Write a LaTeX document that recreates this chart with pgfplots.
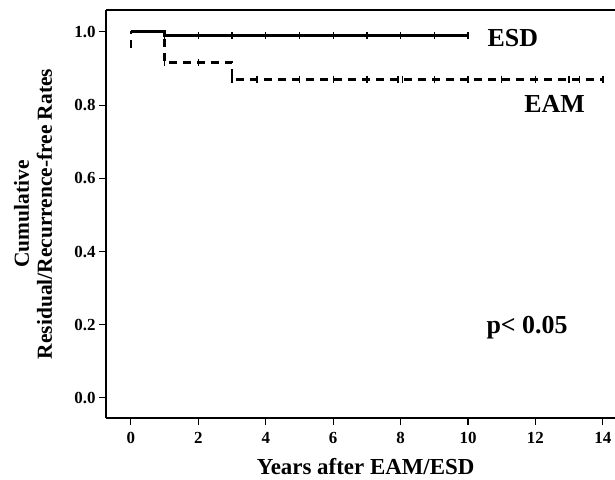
\documentclass[border=0pt]{standalone}
\usepackage{pgfplots}
\pgfplotsset{compat=1.18}
\usepackage{fontspec}
\setmainfont{Liberation Serif}
\begin{document}
\begin{tikzpicture}
\begin{axis}[
  at={(0,0)}, anchor=south west,
  scale only axis, width=509bp, height=408bp,
  xmin=-0.74, xmax=14.36, ymin=-0.055, ymax=1.06,
  axis lines*=left,
  axis line style={-, line width=1.1pt},
  tick align=outside,
  major tick length=7bp,
  tick style={line width=1.1pt, black},
  xtick={0,2,...,14},
  ytick={0,0.2,...,1.0},
  yticklabel style={/pgf/number format/fixed, /pgf/number format/fixed zerofill, /pgf/number format/precision=1},
  /pgf/number format/assume math mode=true,
  ticklabel style={font=\fontsize{17}{19}\selectfont\bfseries},
  xticklabel style={yshift=-4bp},
  xlabel={Years after EAM/ESD},
  xlabel style={font=\fontsize{23}{26}\selectfont\bfseries, at={(rel axis cs:0.51,0)}, anchor=center, yshift=-49bp},
  ylabel={Cumulative\\Residual/Recurrence-free Rates},
  ylabel style={font=\fontsize{21.5}{23}\selectfont\bfseries, align=center, at={(rel axis cs:-0.1434,0.5)}, anchor=center},
  clip=false,
]
% ESD
\addplot[black, line width=3pt, const plot] coordinates {(0,1.0) (1,1.0) (1,0.989) (10,0.989)};
\addplot[black, only marks, mark=|, mark size=3.5bp, mark options={line width=1.4pt}] coordinates {
(1,0.989) (2,0.989) (3,0.989) (4,0.989) (5,0.989) (6,0.989) (7,0.989) (8,0.989) (9,0.989) (10,0.989)};
% EAM
\addplot[black, line width=2.7pt, dash pattern=on 8bp off 6bp] coordinates {(0,0.957) (0,1.0) (1,1.0) (1,0.917) (3,0.917) (3,0.871) (14,0.871)};
\addplot[black, only marks, mark=|, mark size=3.5bp, mark options={line width=1.4pt, solid}] coordinates {
(1,0.917) (2,0.917) (3,0.871) (3.74,0.871) (5,0.871) (6,0.871) (7,0.871) (7.92,0.871) (8.05,0.871) (9,0.871) (10,0.871) (11,0.871) (12,0.871) (13,0.871) (13.3,0.871) (14,0.871)};
\draw[line width=1.1pt] (rel axis cs:0,1) -- (rel axis cs:1,1);
\node[font=\fontsize{26}{28}\selectfont\bfseries] at (axis cs:11.33,0.983) {ESD};
\node[font=\fontsize{26}{28}\selectfont\bfseries] at (axis cs:12.57,0.804) {EAM};
\node[font=\fontsize{26}{28}\selectfont\bfseries] at (axis cs:11.75,0.191) {p< 0.05};
\end{axis}
\pgfresetboundingbox
\path (-106bp,-62bp) rectangle (509bp,418bp);
\end{tikzpicture}
\end{document}
